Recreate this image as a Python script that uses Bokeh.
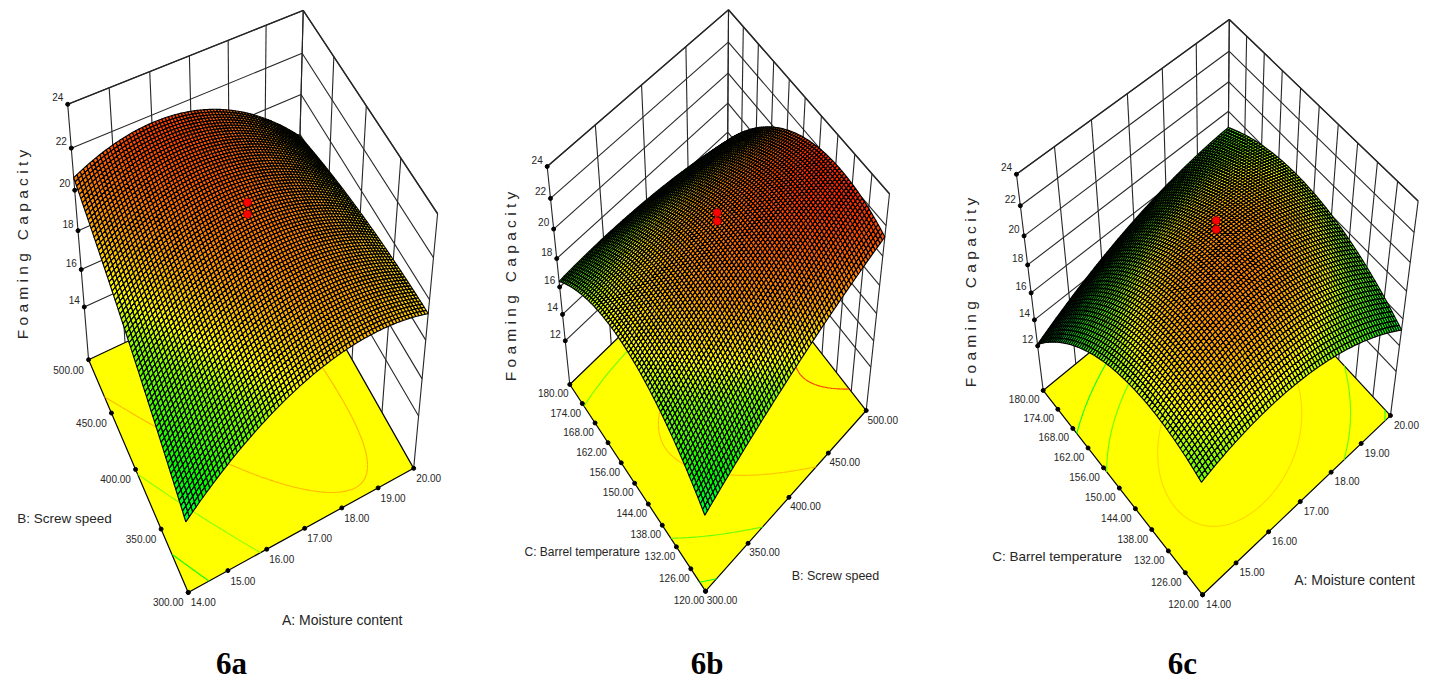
import numpy as np
from bokeh.plotting import figure
from bokeh.models import Range1d
from bokeh.core.properties import value
from bokeh.embed import file_html
from bokeh.resources import INLINE

# ---- values -----------------------------------------------------------
A_TICKS = ["14.00", "15.00", "16.00", "17.00", "18.00", "19.00", "20.00"]
B_TICKS = ["300.00", "350.00", "400.00", "450.00", "500.00"]
C_TICKS = ["120.00", "126.00", "132.00", "138.00", "144.00", "150.00",
           "156.00", "162.00", "168.00", "174.00", "180.00"]
Z_TICKS_A = [14, 16, 18, 20, 22, 24]
Z_TICKS_BC = [12, 14, 16, 18, 20, 22, 24]

# Foaming capacity at 5 x 5 evenly spaced settings (rows: second factor, low to high)
HEIGHTS_6A = [[14.95, 17.65, 19.15, 19.55, 19.40],
              [16.62, 18.89, 20.05, 20.15, 19.20],
              [18.11, 19.94, 20.68, 20.30, 19.00],
              [19.44, 20.84, 21.14, 20.36, 18.48],
              [20.60, 21.56, 21.44, 20.22, 17.90]]
HEIGHTS_6B = [[14.80, 16.85, 18.60, 20.08, 21.26],
              [17.58, 19.17, 20.45, 21.47, 22.18],
              [18.78, 19.90, 20.72, 21.27, 21.52],
              [18.38, 19.04, 19.39, 19.48, 19.26],
              [16.40, 16.59, 16.48, 16.10, 15.42]]
HEIGHTS_6C = [[17.60, 18.55, 18.47, 17.35, 15.20],
              [18.53, 19.88, 20.20, 19.30, 17.30],
              [17.93, 19.69, 20.42, 19.85, 18.10],
              [15.80, 17.70, 18.90, 18.95, 18.40],
              [12.15, 14.00, 15.30, 16.60, 16.70]]
CONTOURS_6A = [16.0, 18.0, 19.8]
CONTOURS_6B = [15.35, 17.5, 19.65, 21.87]
CONTOURS_6C = [15.5, 17.4, 19.4]
DESIGN_POINTS_6A = [21.95, 21.4]
DESIGN_POINTS_6B = [21.95, 21.4]
DESIGN_POINTS_6C = [21.9, 21.3]
FLOOR_Z = [11.05, 8.53, 8.4]

# ---- view calibration: where the box corners fall on the page ----------
# order: floor (0,0), floor (1,0), floor (0,1), top (1,0), top (0,1), top (1,1)
VIEW_6A = [(188, 592), (413, 468), (88, 359), (437, 213), (67, 104), (303, 10)]
VIEW_6B = [(705, 590.7), (865.7, 410), (569.3, 384), (889, 193.3), (546.7, 166), (728, 9.3)]
VIEW_6C = [(1202, 594.3), (1390, 415), (1042.7, 390), (1417.7, 200.7), (1016, 173.7), (1228.7, 19)]

MESH = 72
SANS = value("Liberation Sans")
INK = "#262626"

COLOR_Z = [15.0, 16.0, 18.0, 18.9, 20.0, 22.0]
COLOR_R = [0, 0, 130, 255, 255, 255]
COLOR_G = [255, 255, 255, 255, 165, 40]
COLOR_B = [60, 0, 0, 0, 0, 0]


def color(z):
    r = np.interp(z, COLOR_Z, COLOR_R)
    g = np.interp(z, COLOR_Z, COLOR_G)
    b = np.interp(z, COLOR_Z, COLOR_B)
    return "#%02x%02x%02x" % (int(r), int(g), int(b))


WORLD = [(0, 0, 0), (1, 0, 0), (0, 1, 0), (1, 0, 1), (0, 1, 1), (1, 1, 1)]


def solve_view(view):
    rows = []
    for (X, Y, W), (x, y) in zip(WORLD, view):
        rows.append([X, Y, W, 1, 0, 0, 0, 0, -x * X, -x * Y, -x * W, -x])
        rows.append([0, 0, 0, 0, X, Y, W, 1, -y * X, -y * Y, -y * W, -y])
    return np.linalg.svd(np.array(rows, float))[2][-1].reshape(3, 4)


def smooth_surface(heights, n):
    grid = np.linspace(0, 1, 5)
    uu, vv = np.meshgrid(grid, grid)
    basis = lambda a, b: np.stack([np.ones_like(a), a, b, a * a, b * b, a * b,
                                   a * a * b, a * b * b, a * a * b * b], -1)
    coef = np.linalg.lstsq(basis(uu.ravel(), vv.ravel()),
                           np.array(heights, float).ravel(), rcond=None)[0]
    fine = np.linspace(0, 1, n + 1)
    fu, fv = np.meshgrid(fine, fine)
    return fu, fv, basis(fu, fv) @ coef


def contour_segments(fu, fv, zz, level):
    xs = []
    n = zz.shape[0] - 1
    for j in range(n):
        for i in range(n):
            c = [(fu[j, i], fv[j, i], zz[j, i]), (fu[j, i + 1], fv[j, i + 1], zz[j, i + 1]),
                 (fu[j + 1, i + 1], fv[j + 1, i + 1], zz[j + 1, i + 1]),
                 (fu[j + 1, i], fv[j + 1, i], zz[j + 1, i])]
            pts = []
            for k in range(4):
                a, b = c[k], c[(k + 1) % 4]
                if (a[2] - level) * (b[2] - level) < 0:
                    t = (level - a[2]) / (b[2] - a[2])
                    pts.append((a[0] + t * (b[0] - a[0]), a[1] + t * (b[1] - a[1])))
            for s in range(0, len(pts) - 1, 2):
                xs.append(pts[s:s + 2])
    return xs


p = figure(width=1434, height=682, x_range=Range1d(0, 1434), y_range=Range1d(682, 0),
           toolbar_location=None, output_backend="svg", min_border=0)
p.axis.visible = False
p.grid.visible = False
p.outline_line_color = None


def panel(view, heights, floor_z, levels, points, u_ticks, v_ticks, z_ticks,
          u_title, v_title, u_title_at, v_title_at, z_title_at, caption, caption_at,
          u_off, v_off, u_size, v_size):
    P = solve_view(view)

    def w_of(z):
        return (np.asarray(z, float) - floor_z) / (24 - floor_z)

    def project(u, v, w):
        u, v, w = np.asarray(u, float), np.asarray(v, float), np.asarray(w, float)
        hx = P[0, 0] * u + P[0, 1] * v + P[0, 2] * w + P[0, 3]
        hy = P[1, 0] * u + P[1, 1] * v + P[1, 2] * w + P[1, 3]
        hh = P[2, 0] * u + P[2, 1] * v + P[2, 2] * w + P[2, 3]
        return hx / hh, hy / hh

    def seg(a, b, lw=1.0):
        x0, y0 = project(*a)
        x1, y1 = project(*b)
        p.line([float(x0), float(x1)], [float(y0), float(y1)], line_color=INK, line_width=lw)

    nu, nv = len(u_ticks), len(v_ticks)
    # walls
    for i in range(nu):
        seg((i / (nu - 1), 1, 0), (i / (nu - 1), 1, 1), 1.1)
    for i in range(nv):
        seg((1, i / (nv - 1), 0), (1, i / (nv - 1), 1), 1.1)
    for z in z_ticks:
        w = w_of(z)
        seg((0, 1, w), (1, 1, w), 1.1)
        seg((1, 0, w), (1, 1, w), 1.1)
    seg((0, 1, 1), (1, 1, 1), 1.4)
    seg((1, 0, 1), (1, 1, 1), 1.4)

    # floor
    fx, fy = project(np.array([0., 1, 1, 0]), np.array([0., 0, 1, 1]), np.zeros(4))
    p.patch(list(fx), list(fy), fill_color="#ffff00", line_color="black", line_width=1.2)

    # contours on the floor
    fu, fv, zz = smooth_surface(heights, MESH)
    for level in levels:
        segs = contour_segments(fu, fv, zz, level)
        if segs:
            sx, sy = [], []
            for s in segs:
                a = np.array(s)
                x, y = project(a[:, 0], a[:, 1], np.zeros(len(a)))
                sx.append(list(x))
                sy.append(list(y))
            p.multi_line(sx, sy, line_color=color(level), line_width=1.1)

    # tick marks
    tu = np.linspace(0, 1, nu)
    tv = np.linspace(0, 1, nv)
    ux, uy = project(tu, np.zeros(nu), np.zeros(nu))
    vx, vy = project(np.zeros(nv), tv, np.zeros(nv))
    zw = w_of(z_ticks)
    zx, zy = project(np.zeros(len(zw)), np.ones(len(zw)), zw)
    p.scatter(list(ux) + list(vx) + list(zx), list(uy) + list(vy) + list(zy),
              size=4, color="black")

    # surface, painted back to front
    qx, qy, qc, order = [], [], [], []
    X, Y = project(fu, fv, w_of(zz))
    for j in range(MESH):
        for i in range(MESH):
            order.append(-(i + j))
            qx.append([X[j, i], X[j, i + 1], X[j + 1, i + 1], X[j + 1, i]])
            qy.append([Y[j, i], Y[j, i + 1], Y[j + 1, i + 1], Y[j + 1, i]])
            qc.append(color((zz[j, i] + zz[j + 1, i + 1]) / 2))
    idx = np.argsort(order, kind="stable")
    p.patches([qx[k] for k in idx], [qy[k] for k in idx], fill_color=[qc[k] for k in idx],
              line_color="black", line_width=1.15)

    # design points
    dx, dy = project(np.full(len(points), .5), np.full(len(points), .5), w_of(points))
    p.scatter(list(dx), list(dy), size=8, fill_color="#ff0000", line_color="#8a0000", line_width=0.6)

    # texts
    tick_style = dict(text_font=SANS, text_font_size="10px", text_color=INK,
                      text_align="center", text_baseline="middle")
    title_style = dict(text_font=SANS, text_color=INK, text_align="center", text_baseline="middle")
    p.text(list(ux + u_off[0]), list(uy + u_off[1]), text=u_ticks, **tick_style)
    p.text(list(vx + v_off[0]), list(vy + v_off[1]), text=v_ticks, **tick_style)
    p.text(list(zx - 10), list(zy - 7), text=[str(z) for z in z_ticks], **tick_style)
    p.text([u_title_at[0]], [u_title_at[1]], text=[u_title], text_font_size=u_size, **title_style)
    p.text([v_title_at[0]], [v_title_at[1]], text=[v_title], text_font_size=v_size, **title_style)
    p.text([z_title_at[0]], [z_title_at[1]], text=["F o a m i n g \u00a0\u00a0C a p a c i t y"], text_font=SANS,
           text_font_size="15.5px", text_color=INK, angle=np.pi / 2, text_align="center", text_baseline="middle")
    p.text([caption_at[0]], [caption_at[1]], text=[caption], text_font=value("Liberation Serif"),
           text_font_style="bold", text_font_size="31px", text_color="black",
           text_align="center", text_baseline="middle")


panel(VIEW_6A, HEIGHTS_6A, FLOOR_Z[0], CONTOURS_6A, DESIGN_POINTS_6A, A_TICKS, B_TICKS, Z_TICKS_A,
      "A: Moisture content", "B: Screw speed", (341.7, 619), (64, 518), (22, 244),
      "6a", (231, 663), (15, 10), (-20, 10), "14px", "13.5px")
panel(VIEW_6B, HEIGHTS_6B, FLOOR_Z[1], CONTOURS_6B, DESIGN_POINTS_6B, B_TICKS, C_TICKS, Z_TICKS_BC,
      "B: Screw speed", "C: Barrel temperature", (835, 575), (581.7, 551.7), (510, 286),
      "6b", (706.7, 663), (16.5, 9), (-16.5, 9), "12.5px", "12px")
panel(VIEW_6C, HEIGHTS_6C, FLOOR_Z[2], CONTOURS_6C, DESIGN_POINTS_6C, A_TICKS, C_TICKS, Z_TICKS_BC,
      "A: Moisture content", "C: Barrel temperature", (1354, 579.3), (1056.7, 556), (970, 292),
      "6c", (1182, 663), (16, 9), (-19, 9), "14px", "13.5px")

open("out.html", "w").write(file_html(p, INLINE))
